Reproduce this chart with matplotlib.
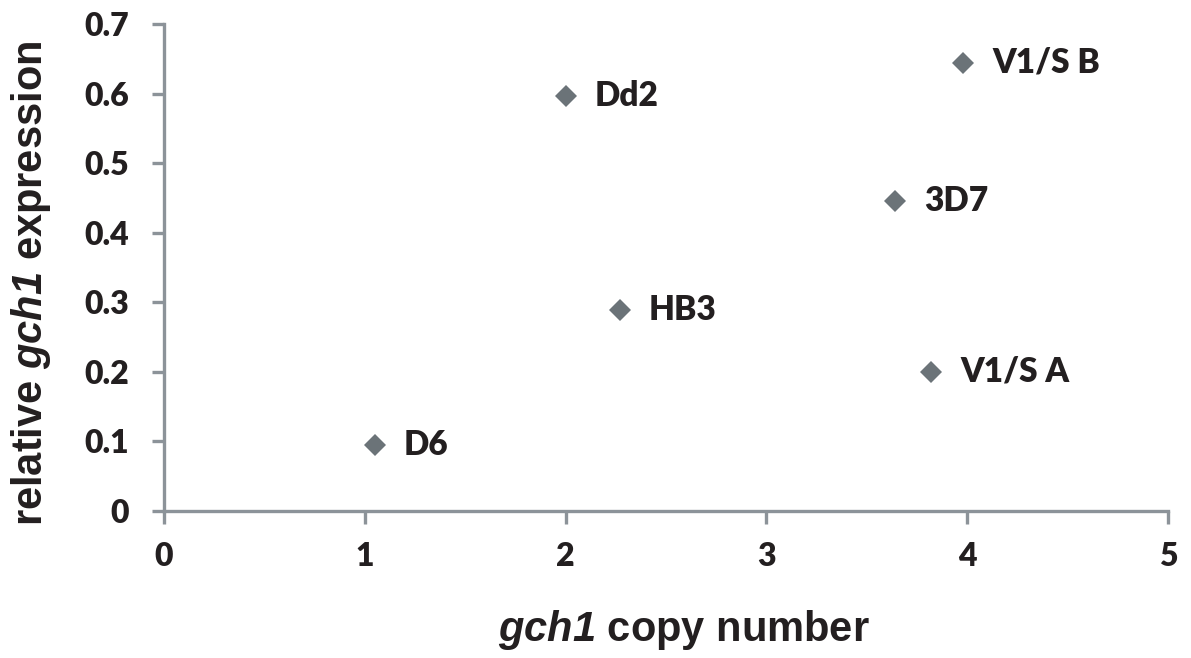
import matplotlib
matplotlib.use('Agg')
import matplotlib.pyplot as plt

# strains, copy number vs relative expression
strains = ['D6', 'Dd2', 'HB3', '3D7', 'V1/S A', 'V1/S B']
copy_number = [1.05, 2.0, 2.27, 3.64, 3.82, 3.98]
expression = [0.095, 0.597, 0.289, 0.446, 0.200, 0.644]

xticks = [0, 1, 2, 3, 4, 5]
yticks = [0, 0.1, 0.2, 0.3, 0.4, 0.5, 0.6, 0.7]
ytick_labels = ['0', '0.1', '0.2', '0.3', '0.4', '0.5', '0.6', '0.7']

plt.rcParams['font.family'] = ['Lato', 'DejaVu Sans']
plt.rcParams['font.weight'] = 'heavy'
# axis titles are Arial-like, gene name italic
plt.rcParams['mathtext.fontset'] = 'custom'
plt.rcParams['mathtext.it'] = 'Liberation Sans:italic:bold'
plt.rcParams['mathtext.rm'] = 'Liberation Sans:italic:bold'

axis_col = '#8c9399'
mark_col = '#6b7378'
txt_col = '#231f20'

fig = plt.figure(figsize=(11.91, 6.58), dpi=100)
ax = fig.add_axes([0.1377, 0.2234, 0.843, 0.7401])

ax.plot(copy_number, expression, linestyle='none', marker='D', markersize=11,
        color=mark_col, markeredgewidth=0)

for name, x, y in zip(strains, copy_number, expression):
    ax.annotate(name, (x, y), xytext=(21, 0), textcoords='offset points',
                va='center', ha='left', fontsize=24, fontweight='heavy', color=txt_col)

ax.set_xlim(0, 5)
ax.set_ylim(0, 0.7)
ax.set_xticks(xticks)
ax.set_yticks(yticks)
ax.set_yticklabels(ytick_labels)

for s in ['top', 'right']:
    ax.spines[s].set_visible(False)
for s in ['left', 'bottom']:
    ax.spines[s].set_color(axis_col)
    ax.spines[s].set_linewidth(2.4)

ax.tick_params(axis='both', direction='out', length=9, width=2.4, color=axis_col,
               labelsize=23, labelcolor=txt_col)
ax.tick_params(axis='x', pad=13)
ax.tick_params(axis='y', pad=16)
for lbl in ax.get_xticklabels() + ax.get_yticklabels():
    lbl.set_fontweight('heavy')

ax.set_xlabel(r'$gch1$ copy number', fontsize=30, fontweight='bold',
              family='Liberation Sans', color=txt_col)
ax.set_ylabel(r'relative $gch1$ expression', fontsize=30, fontweight='bold',
              family='Liberation Sans', color=txt_col)
ax.xaxis.set_label_coords(0.518, -0.2)
ax.yaxis.set_label_coords(-0.111, 0.467)

fig.savefig('out.png', dpi=100)
